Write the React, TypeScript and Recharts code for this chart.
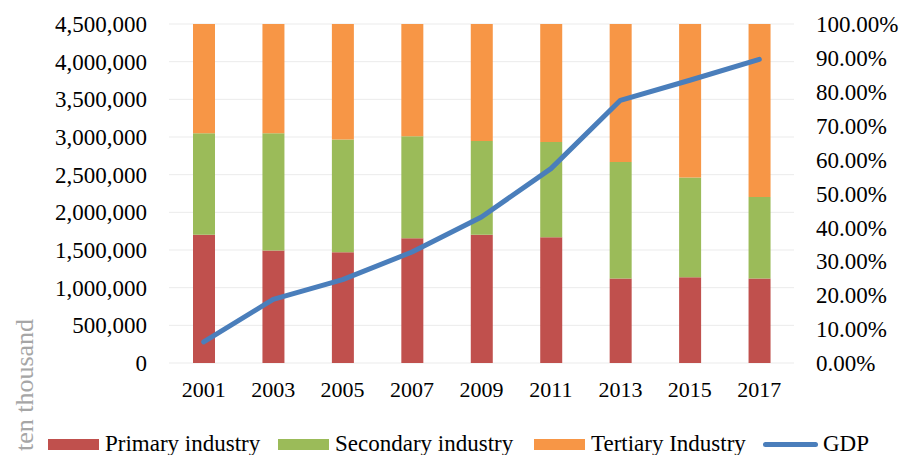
import React from 'react';
import { ComposedChart, Bar, Line, XAxis, YAxis, CartesianGrid, Legend } from 'recharts';

const years = ['2001', '2003', '2005', '2007', '2009', '2011', '2013', '2015', '2017'];
// industry shares in percent (right axis)
const primaryShare = [37.8, 33.2, 32.7, 36.8, 37.8, 37.1, 24.9, 25.3, 24.9];
const secondaryShare = [30.0, 34.6, 33.2, 30.1, 27.7, 28.1, 34.4, 29.4, 24.1];
const tertiaryShare = [32.2, 32.2, 34.1, 33.1, 34.5, 34.8, 40.7, 45.3, 51.0];
// GDP in ten thousand (left axis)
const gdp = [279000, 845000, 1107000, 1473000, 1938000, 2580000, 3487000, 3753000, 4031000];

const leftTicks = [0, 500000, 1000000, 1500000, 2000000, 2500000, 3000000, 3500000, 4000000, 4500000];
const rightTicks = [0, 10, 20, 30, 40, 50, 60, 70, 80, 90, 100];

const FONT = 'Liberation Serif';
const COLORS = { primary: '#c0504d', secondary: '#9bbb59', tertiary: '#f79646', gdp: '#4a7ebb' };

const rows = years.map((year, i) => ({
  year,
  primary: primaryShare[i],
  secondary: secondaryShare[i],
  tertiary: tertiaryShare[i],
  gdp: gdp[i],
}));

const legendItems = [
  { label: 'Primary industry', color: COLORS.primary, type: 'rect', left: 48 },
  { label: 'Secondary industry', color: COLORS.secondary, type: 'rect', left: 278 },
  { label: 'Tertiary Industry', color: COLORS.tertiary, type: 'rect', left: 534 },
  { label: 'GDP', color: COLORS.gdp, type: 'line', left: 763 },
];

function ChartLegend() {
  return (
    <div style={{ position: 'relative', width: 907, height: 22, fontFamily: `'${FONT}'`, fontSize: 23, color: '#000' }}>
      {legendItems.map((item) => (
        <div
          key={item.label}
          style={{ position: 'absolute', left: item.left, top: 0, height: 22, display: 'flex', alignItems: 'center', whiteSpace: 'nowrap' }}
        >
          {item.type === 'rect' ? (
            <span style={{ display: 'inline-block', width: 51, height: 11, background: item.color, marginRight: 6 }} />
          ) : (
            <span style={{ display: 'inline-block', width: 55, height: 5, borderRadius: 3, background: item.color, marginRight: 5 }} />
          )}
          <span style={{ lineHeight: '22px', fontFamily: `'${FONT}'` }}>{item.label}</span>
        </div>
      ))}
    </div>
  );
}

function UnitLabel(props: any) {
  const vb = props.viewBox || { x: 0, y: 0, width: 0, height: 0 };
  const x = vb.x + 33;
  const y = vb.y + vb.height + 22;
  return (
    <text
      x={0}
      y={0}
      transform={`translate(${x}, ${y}) rotate(-90)`}
      textAnchor="middle"
      fill="#a6a6a6"
      fontSize={26}
      fontFamily={FONT}
    >
      ten thousand
    </text>
  );
}

export default function App() {
  const tick = { fill: '#000', fontSize: 23, fontFamily: FONT };
  return (
    <div style={{ position: 'absolute', left: 0, top: 0, width: 907, height: 455, background: '#fff', fontFamily: `'${FONT}'` }}>
      <ComposedChart width={907} height={455} data={rows} margin={{ top: 24, right: 0, bottom: 0, left: 0 }}>
        <CartesianGrid yAxisId="left" vertical={false} stroke="#ebebeb" />
        <XAxis
          dataKey="year"
          axisLine={false}
          tickLine={false}
          tickSize={0}
          tickMargin={18}
          height={70}
          tick={{ ...tick, fontSize: 22 }}
        />
        <YAxis
          yAxisId="left"
          width={169}
          domain={[0, 4500000]}
          ticks={leftTicks}
          interval={0}
          axisLine={false}
          tickLine={false}
          tickSize={0}
          tickMargin={22}
          tick={tick}
          tickFormatter={(v: number) => v.toLocaleString('en-US')}
          label={{ content: UnitLabel }}
        />
        <YAxis
          yAxisId="right"
          orientation="right"
          width={113}
          domain={[0, 100]}
          ticks={rightTicks}
          interval={0}
          axisLine={false}
          tickLine={false}
          tickSize={0}
          tickMargin={22}
          tick={tick}
          tickFormatter={(v: number) => `${v.toFixed(2)}%`}
        />
        <Bar yAxisId="right" dataKey="primary" name="Primary industry" stackId="share" fill={COLORS.primary} barSize={22} isAnimationActive={false} />
        <Bar yAxisId="right" dataKey="secondary" name="Secondary industry" stackId="share" fill={COLORS.secondary} barSize={22} isAnimationActive={false} />
        <Bar yAxisId="right" dataKey="tertiary" name="Tertiary Industry" stackId="share" fill={COLORS.tertiary} barSize={22} isAnimationActive={false} />
        <Line
          yAxisId="left"
          dataKey="gdp"
          name="GDP"
          type="linear"
          stroke={COLORS.gdp}
          strokeWidth={5}
          strokeLinejoin="round"
          strokeLinecap="round"
          dot={false}
          isAnimationActive={false}
        />
        <Legend verticalAlign="bottom" content={ChartLegend} wrapperStyle={{ left: 0, bottom: 0, width: 907 }} />
      </ComposedChart>
    </div>
  );
}
